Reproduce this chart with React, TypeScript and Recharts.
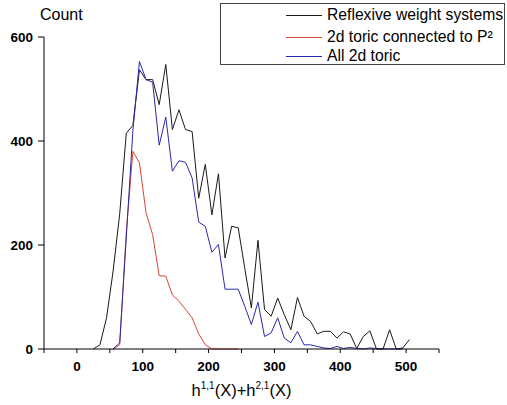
import React from 'react';
import { LineChart, Line, XAxis, YAxis, Legend } from 'recharts';

// bin centres of h11 + h21, step 10
const bins = [
  25, 35, 45, 55, 65, 75, 85, 95, 105, 115,
  125, 135, 145, 155, 165, 175, 185, 195, 205, 215,
  225, 235, 245, 255, 265, 275, 285, 295, 305, 315,
  325, 335, 345, 355, 365, 375, 385, 395, 405, 415,
  425, 435, 445, 455, 465, 475, 485, 495, 505,
];

const reflexive = [
  0, 8, 60, 150, 260, 415, 430, 537, 518, 518,
  470, 547, 422, 460, 422, 418, 290, 355, 258, 337,
  175, 236, 233, 155, 79, 209, 76, 63, 98, 66,
  37, 99, 63, 53, 29, 34, 34, 21, 33, 29,
  1, 24, 35, 0, 0, 37, 0, 2, 18,
];

const toricP2 = [
  null, null, null, 0, 8, 225, 380, 358, 262, 220,
  141, 140, 104, 92, 76, 60, 29, 8, 0, 0,
  0, 0, 0, null, null, null, null, null, null, null,
  null, null, null, null, null, null, null, null, null, null,
  null, null, null, null, null, null, null, null, null,
];

const allToric = [
  null, null, null, 0, 12, 215, 420, 553, 518, 513,
  392, 446, 342, 362, 359, 329, 244, 236, 186, 201,
  115, 115, 115, 82, 47, 90, 24, 31, 60, 21,
  12, 34, 8, 8, 5, 2, 1, 5, 1, 3,
  1, 0, 2, 1, 0, 0, 0, 0, null,
];

const seriesKeys = ['reflexive', 'toricP2', 'allToric'];
const seriesNames = ['Reflexive weight systems', '2d toric connected to P²', 'All 2d toric'];
const seriesColors = ['#1a1a1a', '#d8453c', '#2a2aa8'];

const xTicks = [-50, 0, 50, 100, 150, 200, 250, 300, 350, 400, 450, 500, 550];
const yTicks = [0, 200, 400, 600];

const data = bins.map((x, i) => ({
  x,
  reflexive: reflexive[i],
  toricP2: toricP2[i],
  allToric: allToric[i],
}));

const XTick = ({ x, y, payload }: any) => {
  const v = payload.value;
  if (v < 0 || v > 500 || v % 100 !== 0) return null;
  return (
    <text x={x} y={y + 18} textAnchor="middle" fontSize={13.5} fontWeight="bold" fill="#000">
      {v}
    </text>
  );
};

const YTick = ({ x, y, payload }: any) => (
  <text x={x} y={y + 5} textAnchor="end" fontSize={13.5} fontWeight="bold" fill="#000">
    {payload.value}
  </text>
);

const XTitle = ({ viewBox }: any) => {
  const cx = viewBox.x + viewBox.width / 2;
  return (
    <text x={cx} y={viewBox.y + 47} textAnchor="middle" fontSize={16.5} fill="#000">
      h<tspan fontSize={10} dy={-7}>1,1</tspan>
      <tspan dy={7}>(X)+h</tspan>
      <tspan fontSize={10} dy={-7}>2,1</tspan>
      <tspan dy={7}>(X)</tspan>
    </text>
  );
};

const YTitle = ({ viewBox }: any) => (
  <text x={viewBox.x + 40} y={viewBox.y - 17} fontSize={16} fill="#000">
    Count
  </text>
);

const LegendBox = () => (
  <div
    style={{
      position: 'relative',
      width: 285,
      height: 62,
      border: '1px solid #444',
      background: '#fff',
      overflow: 'hidden',
      boxSizing: 'border-box',
    }}
  >
    {seriesNames.map((name, i) => {
      const cy = [11, 33, 52][i];
      return (
        <div key={name} style={{ position: 'absolute', left: 0, top: cy - 9, height: 18, width: 300 }}>
          <span style={{ position: 'absolute', left: 65, top: 9, width: 36, height: 1, background: seriesColors[i] }} />
          <span
            style={{
              position: 'absolute',
              left: 106,
              top: 0,
              lineHeight: '18px',
              fontSize: 15.7,
              whiteSpace: 'nowrap',
              color: '#000',
            }}
          >
            {name}
          </span>
        </div>
      );
    })}
  </div>
);

export default function App() {
  return (
    <div
      style={{
        position: 'absolute',
        left: 0,
        top: 0,
        width: 507,
        height: 405,
        background: '#fff',
        fontFamily: '"Liberation Sans", Arial, sans-serif',
      }}
    >
      <LineChart width={507} height={405} data={data} margin={{ top: 37, right: 68, bottom: 0, left: 0 }}>
        <XAxis
          dataKey="x"
          type="number"
          domain={[-50, 550]}
          ticks={xTicks}
          interval={0}
          tickSize={4}
          tickMargin={0}
          height={56}
          stroke="#000"
          tick={<XTick />}
          label={<XTitle />}
        />
        <YAxis
          type="number"
          domain={[0, 600]}
          ticks={yTicks}
          interval={0}
          tickSize={6}
          tickMargin={5}
          width={44}
          stroke="#000"
          tick={<YTick />}
          label={<YTitle />}
        />
        <Legend
          layout="horizontal"
          verticalAlign="middle"
          align="center"
          content={<LegendBox />}
          wrapperStyle={{ position: 'absolute', left: 220, top: 3, width: 285, height: 62 }}
        />
        {seriesKeys.map((key, i) => (
          <Line
            key={key}
            name={seriesNames[i]}
            dataKey={key}
            type="linear"
            stroke={seriesColors[i]}
            strokeWidth={1}
            dot={false}
            isAnimationActive={false}
          />
        ))}
      </LineChart>
    </div>
  );
}
